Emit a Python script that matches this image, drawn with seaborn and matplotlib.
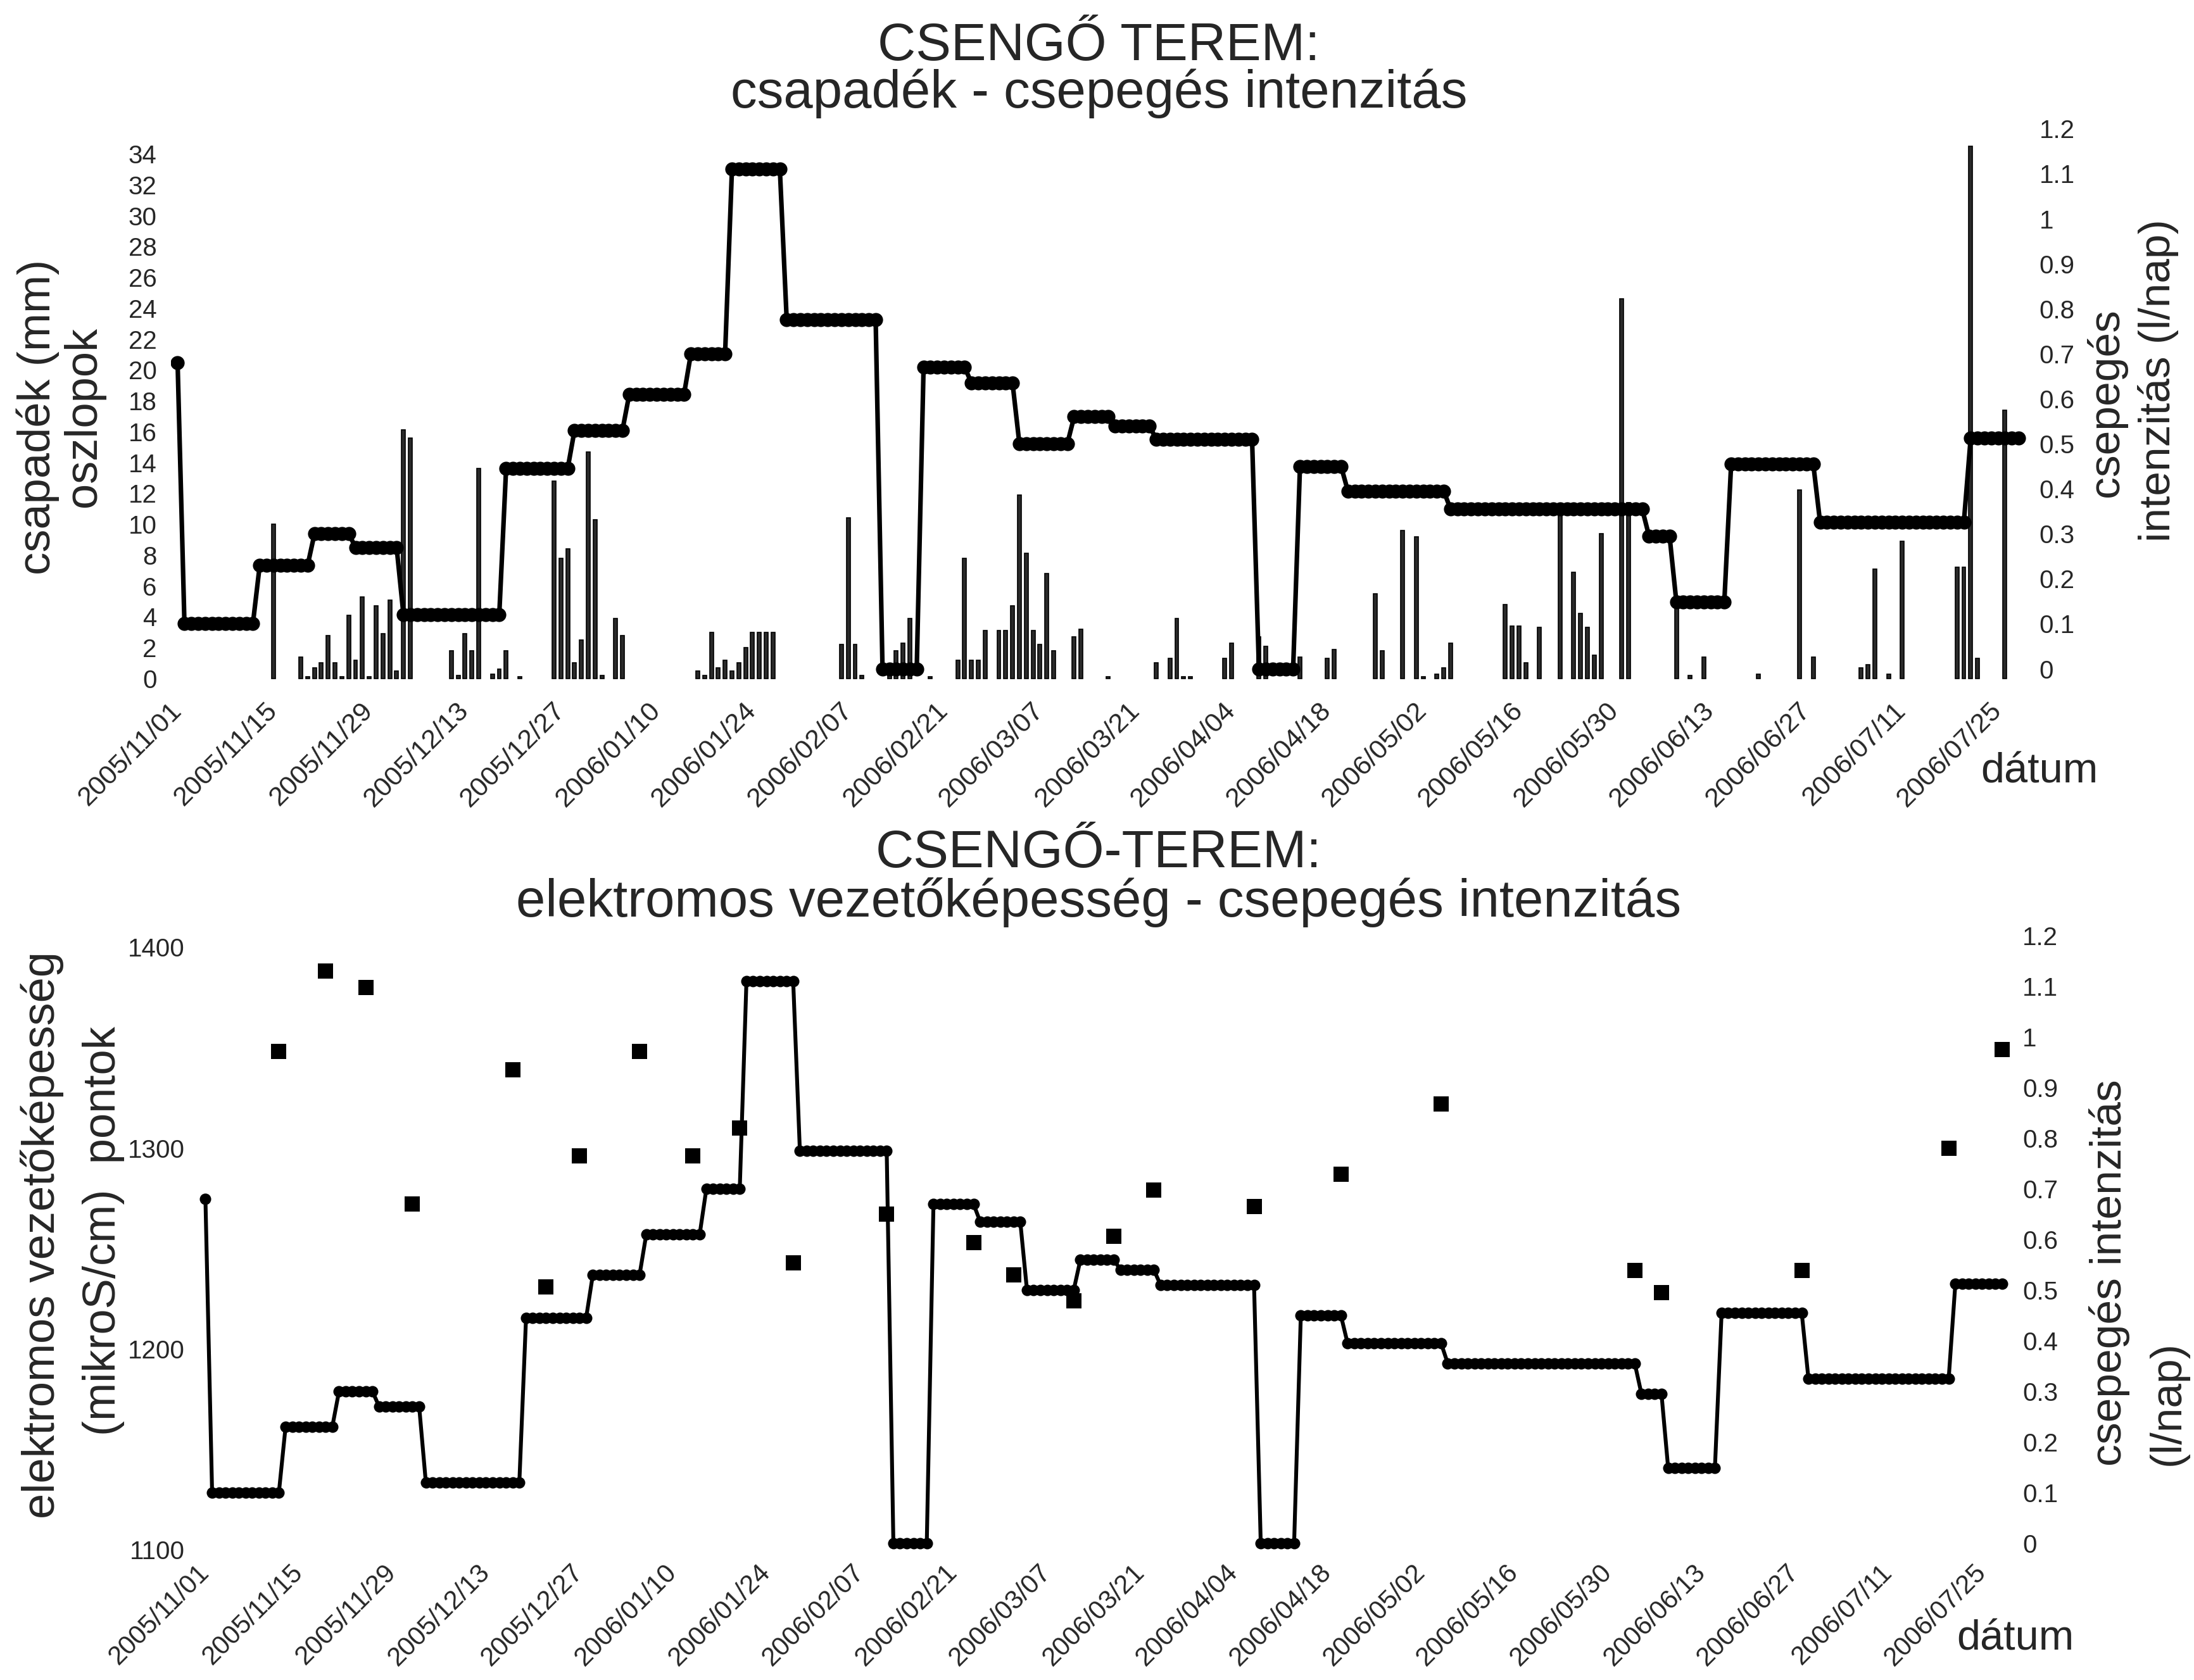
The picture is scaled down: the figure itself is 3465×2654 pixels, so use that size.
import numpy as np
import pandas as pd
import matplotlib
matplotlib.use('Agg')
import matplotlib.pyplot as plt
import matplotlib.dates as mdates
import seaborn as sns

sns.set_style('white')
plt.rcParams['font.family'] = ['Liberation Sans', 'DejaVu Sans']

# Kezdőnap: 2005/11/01, minden adat napban ettől számítva
start = pd.Timestamp('2005-11-01')
last_day = 269

# csepegés intenzitás (l/nap) - lépcsők kezdőnapja és értéke
step_day = [0, 1, 12, 20, 26, 33, 48, 58, 66, 75, 81, 89, 103, 109, 116, 123, 131,
            137, 143, 158, 164, 171, 186, 215, 219, 227, 240, 262]
step_value = [0.68, 0.10, 0.23, 0.30, 0.27, 0.12, 0.445, 0.53, 0.61, 0.70, 1.11, 0.775,
              0.0, 0.67, 0.635, 0.50, 0.56, 0.54, 0.51, 0.0, 0.45, 0.395, 0.355, 0.295,
              0.148, 0.455, 0.325, 0.513]

# napi csapadék (mm) - oszlopok
rain_day = [14, 18, 19, 20, 21, 22, 23, 24, 25, 26, 27, 28, 29, 30, 31, 32, 33, 34,
            40, 41, 42, 43, 44, 46, 47, 48, 50, 55, 56, 57, 58, 59, 60, 61, 62, 64, 65,
            76, 77, 78, 79, 80, 81, 82, 83, 84, 85, 86, 87, 97, 98, 99, 100,
            104, 105, 106, 107, 110, 114, 115, 116, 117, 118, 120, 121, 122, 123, 124,
            125, 126, 127, 128, 131, 132, 136, 143, 145, 146, 147, 148, 153, 154, 158,
            159, 164, 168, 169, 175, 176, 179, 181, 182, 184, 185, 186, 194, 195, 196,
            197, 199, 202, 204, 205, 206, 207, 208, 211, 212, 219, 221, 223, 231, 237,
            239, 246, 247, 248, 250, 252, 260, 261, 262, 263, 267]
rain_mm = [10.0, 1.4, 0.1, 0.7, 1.0, 2.8, 1.0, 0.1, 4.1, 1.2, 5.3, 0.1, 4.7, 2.9, 5.1, 0.5, 16.1, 15.6,
           1.8, 0.2, 2.9, 1.8, 13.6, 0.3, 0.6, 1.8, 0.1, 12.8, 7.8, 8.4, 1.0, 2.5, 14.7, 10.3, 0.2, 3.9, 2.8,
           0.5, 0.2, 3.0, 0.7, 1.2, 0.5, 1.0, 2.0, 3.0, 3.0, 3.0, 3.0, 2.2, 10.4, 2.2, 0.2,
           0.6, 1.8, 2.3, 3.9, 0.1, 1.2, 7.8, 1.2, 1.2, 3.1, 3.1, 3.1, 4.7, 11.9, 8.1,
           3.1, 2.2, 6.8, 1.8, 2.7, 3.2, 0.1, 1.0, 1.3, 3.9, 0.1, 0.1, 1.3, 2.3, 2.7,
           2.1, 1.4, 1.3, 1.9, 5.5, 1.8, 9.6, 9.2, 0.1, 0.3, 0.7, 2.3, 4.8, 3.4, 3.4,
           1.0, 3.3, 11.0, 6.9, 4.2, 3.3, 1.5, 9.4, 24.6, 11.4, 5.1, 0.2, 1.4, 0.3, 12.2,
           1.4, 0.7, 0.9, 7.1, 0.3, 8.9, 7.2, 7.2, 34.5, 1.3, 17.4]

# elektromos vezetőképesség (mikroS/cm) - pontok
cond_day = [11, 18, 24, 31, 46, 51, 56, 65, 73, 80, 88, 102, 115, 121, 130, 136, 142,
            157, 170, 185, 214, 218, 239, 261, 269]
cond_value = [1348, 1388, 1380, 1272, 1339, 1231, 1296, 1348, 1296, 1310, 1243, 1267,
              1253, 1237, 1224, 1256, 1279, 1271, 1287, 1322, 1239, 1228, 1239, 1300, 1349]

tick_labels = pd.date_range(start, periods=20, freq='14D')

# napi idősor a lépcsős görbéhez
lengths = np.diff(step_day + [last_day + 1])
drip = np.repeat(step_value, lengths)
days = start + pd.to_timedelta(np.arange(last_day + 1), unit='D')
rain_dates = start + pd.to_timedelta(rain_day, unit='D')
cond_dates = start + pd.to_timedelta(cond_day, unit='D')

W, H = 1568, 1201  # referencia-koordinaták
fig = plt.figure(figsize=(17.33, 13.27), dpi=200)

xmin = start - pd.Timedelta(days=1)
xmax = start + pd.Timedelta(days=271)


def style_x(ax, pad, size):
    ax.set_xlim(xmin, xmax)
    ax.set_xticks(tick_labels)
    ax.xaxis.set_major_formatter(mdates.DateFormatter('%Y/%m/%d'))
    for lab in ax.get_xticklabels():
        lab.set_rotation(45)
        lab.set_ha('right')
        lab.set_va('center')
        lab.set_rotation_mode('anchor')
    ax.tick_params(axis='x', length=0, pad=pad, labelsize=size)


def fmt_num(v):
    return ('%.1f' % v).rstrip('0').rstrip('.')


# ---- felső ábra: csapadék - csepegés ----
ax1 = fig.add_axes([122 / W, 1 - 490 / H, (1452 - 122) / W, (490 - 92) / H])
ax1.bar(rain_dates, rain_mm, width=0.55, color='#2a2a2a', edgecolor='black', linewidth=0.6)
ax1.set_ylim(-0.45, 35.63)
ax1.set_yticks(np.arange(0, 35, 2))
ax1.tick_params(axis='y', length=0, pad=8, labelsize=14.5)
style_x(ax1, 12, 15.5)

ax2 = ax1.twinx()
sns.lineplot(x=days, y=drip, ax=ax2, color='black', linewidth=2.6, marker='o',
             markersize=8, markeredgecolor='black', markeredgewidth=0)
ax2.set_ylim(-0.037, 1.2)
r_ticks = np.round(np.arange(0, 1.21, 0.1), 1)
ax2.set_yticks(r_ticks)
ax2.set_yticklabels([fmt_num(v) for v in r_ticks])
ax2.tick_params(axis='y', length=0, pad=4, labelsize=14.5)
ax2.set_xlim(xmin, xmax)

# ---- alsó ábra: vezetőképesség - csepegés ----
ax3 = fig.add_axes([142 / W, 1 - 1110 / H, (1440 - 142) / W, (1110 - 665) / H])
sns.scatterplot(x=cond_dates, y=cond_value, ax=ax3, marker='s', s=80, color='black',
                edgecolor='black', linewidth=0, zorder=5)
ax3.set_ylim(1098.6, 1408.4)
ax3.set_yticks([1100, 1200, 1300, 1400])
ax3.tick_params(axis='y', length=0, pad=8, labelsize=14.5)
style_x(ax3, 9, 15)

ax4 = ax3.twinx()
sns.lineplot(x=days, y=drip, ax=ax4, color='black', linewidth=2.2, marker='o',
             markersize=6.5, markeredgecolor='black', markeredgewidth=0)
ax4.set_ylim(-0.019, 1.211)
ax4.set_yticks(r_ticks)
ax4.set_yticklabels([fmt_num(v) for v in r_ticks])
ax4.tick_params(axis='y', length=0, pad=4, labelsize=14.5)
ax4.set_xlim(xmin, xmax)
ax3.set_zorder(ax4.get_zorder() + 1)
ax3.patch.set_visible(False)

for ax in (ax1, ax2, ax3, ax4):
    for sp in ax.spines.values():
        sp.set_visible(False)
    ax.grid(False)
    ax.set_xlabel('')
    ax.set_ylabel('')


def ftext(x, y, s, **kw):
    fig.text(x / W, 1 - y / H, s, ha='center', va='center', **kw)


# címek
ftext(785, 33, 'CSENGŐ TEREM:', fontsize=30)
ftext(785, 67, 'csapadék - csepegés intenzitás', fontsize=30)
ftext(785, 610, 'CSENGŐ-TEREM:', fontsize=30)
ftext(785, 645, 'elektromos vezetőképesség - csepegés intenzitás', fontsize=30)

# tengelyfeliratok
ftext(27, 298, 'csapadék (mm)', fontsize=26, rotation=90)
ftext(60, 298, 'oszlopok', fontsize=26, rotation=90)
ftext(1505, 288, 'csepegés', fontsize=25, rotation=90)
ftext(1542, 272, 'intenzitás (l/nap)', fontsize=25, rotation=90)
ftext(1457, 552, 'dátum', fontsize=24)

ftext(30, 883, 'elektromos vezetőképesség', fontsize=26, rotation=90)
ftext(74, 880, '(mikroS/cm)  pontok', fontsize=26, rotation=90)
ftext(1507, 910, 'csepegés intenzitás', fontsize=25, rotation=90)
ftext(1549, 1003, '(l/nap)', fontsize=25, rotation=90)
ftext(1440, 1172, 'dátum', fontsize=24)

fig.savefig('out.png', dpi=200, facecolor='white')
